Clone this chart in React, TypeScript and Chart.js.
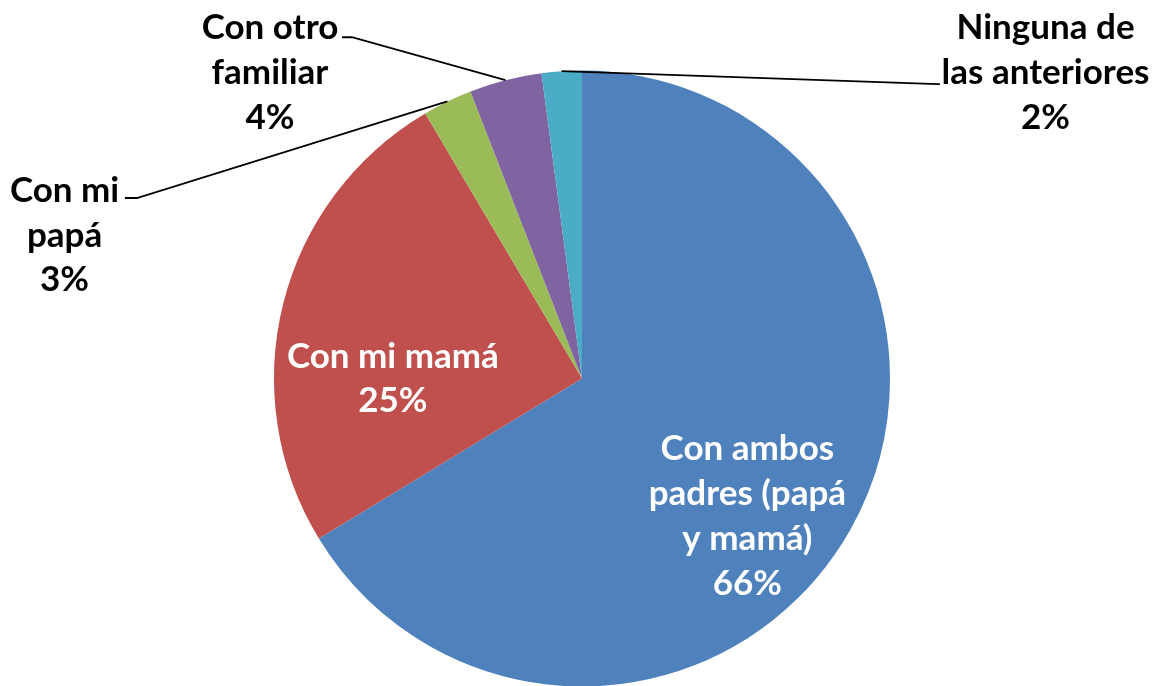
import React, { useEffect, useRef } from "react";
import { Chart, registerables } from "chart.js";

Chart.register(...registerables);

const categories = [
  "Con ambos padres (papá y mamá)",
  "Con mi mamá",
  "Con mi papá",
  "Con otro familiar",
  "Ninguna de las anteriores",
];
const values = [66.3, 25.2, 2.6, 3.8, 2.1];
const colors = ["#4F81BD", "#C0504D", "#9BBB59", "#8064A2", "#4BACC6"];
const labelLines = [
  ["Con ambos", "padres (papá", "y mamá)"],
  ["Con mi mamá"],
  ["Con mi", "papá"],
  ["Con otro", "familiar"],
  ["Ninguna de", "las anteriores"],
];
// label block centre, relative to pie centre in radius units
const labelPos = [
  [0.537, 0.443],
  [-0.614, -0.004],
  [-1.68, -0.469],
  [-1.013, -0.997],
  [1.505, -0.997],
];
const labelInside = [true, true, false, false, false];
// leader: [elbowX, elbowY, endX, endY] relative to centre in radius units (null = none)
const leaders: (number[] | null)[] = [
  null,
  null,
  [-1.445, -0.586, -1.484, -0.586],
  [-0.747, -1.108, -0.779, -1.108],
  [1.155, -0.956, 1.162, -0.956],
];

const FONT_SIZE = 35;
const LINE_H = 44.7;
const FONT = `bold ${FONT_SIZE}px Lato, "Open Sans", sans-serif`;

const labelPlugin = {
  id: "pieLabels",
  afterDatasetsDraw(chart: any) {
    const ctx = chart.ctx;
    const meta = chart.getDatasetMeta(0);
    const total = values.reduce((a, b) => a + b, 0);
    ctx.save();
    ctx.font = FONT;
    ctx.textAlign = "center";
    ctx.textBaseline = "alphabetic";
    const capH = FONT_SIZE * 0.72;
    meta.data.forEach((arc: any, i: number) => {
      const { x, y, startAngle, endAngle, outerRadius: r } = arc.getProps(
        ["x", "y", "startAngle", "endAngle", "outerRadius"],
        true
      );
      const pct = Math.round((values[i] / total) * 100) + "%";
      const lines = [...labelLines[i], pct];
      const cx = x + labelPos[i][0] * r;
      const cy = y + labelPos[i][1] * r;
      const ld = leaders[i];
      if (ld) {
        const mid = (startAngle + endAngle) / 2;
        const px = x + Math.cos(mid) * r;
        const py = y + Math.sin(mid) * r;
        ctx.beginPath();
        ctx.strokeStyle = "#000";
        ctx.lineWidth = 1.8;
        ctx.moveTo(px, py);
        ctx.lineTo(x + ld[0] * r, y + ld[1] * r);
        ctx.lineTo(x + ld[2] * r, y + ld[3] * r);
        ctx.stroke();
      }
      ctx.fillStyle = labelInside[i] ? "#FFFFFF" : "#000000";
      const n = lines.length;
      lines.forEach((t, k) => {
        const by = cy + (k - (n - 1) / 2) * LINE_H + capH / 2;
        ctx.fillText(t, cx, by);
      });
    });
    ctx.restore();
  },
};

export default function App() {
  const ref = useRef<HTMLCanvasElement>(null);
  useEffect(() => {
    if (!ref.current) return;
    const chart = new Chart(ref.current, {
      type: "pie",
      data: {
        labels: categories,
        datasets: [
          {
            data: values,
            backgroundColor: colors,
            borderWidth: 0,
            radius: 308,
          } as any,
        ],
      },
      options: {
        responsive: false,
        animation: false,
        devicePixelRatio: 1,
        layout: { padding: { left: 6, right: 0, top: 71, bottom: 0 } },
        plugins: {
          legend: { display: false },
          tooltip: { enabled: false },
          title: { display: false },
        },
      },
      plugins: [labelPlugin],
    });
    return () => chart.destroy();
  }, []);
  return (
    <div style={{ position: "absolute", left: 0, top: 0, width: 1158, height: 686, background: "#fff" }}>
      <canvas ref={ref} width={1158} height={686} />
    </div>
  );
}
